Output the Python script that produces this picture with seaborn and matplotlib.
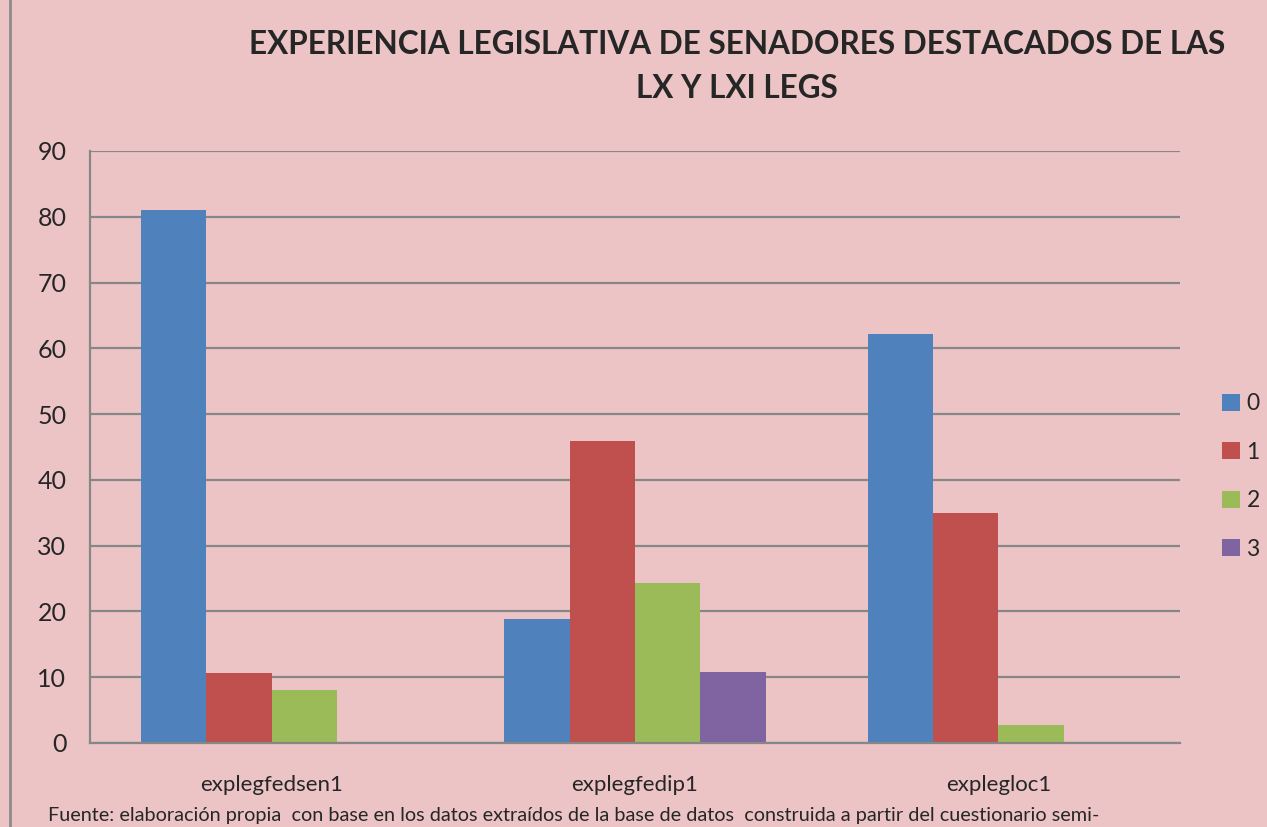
import pandas as pd
import matplotlib.pyplot as plt
import matplotlib.lines as mlines
import seaborn as sns

categories = ["explegfedsen1", "explegfedip1", "explegloc1"]
hue_levels = ["0", "1", "2", "3"]
vals_0 = [81.0, 18.8, 62.2]
vals_1 = [10.7, 45.9, 35.0]
vals_2 = [8.1, 24.3, 2.7]
vals_3 = [0.0, 10.8, 0.0]

colors = ["#4F81BD", "#C0504D", "#9BBB59", "#8064A2"]
bg = "#ECC4C6"

rows = []
for lvl, vals in zip(hue_levels, [vals_0, vals_1, vals_2, vals_3]):
    for cat, v in zip(categories, vals):
        rows.append({"cat": cat, "grp": lvl, "val": v})
df = pd.DataFrame(rows)

sns.set_style("white")
plt.rcParams["font.family"] = ["Lato", "DejaVu Sans"]

fig = plt.figure(figsize=(12.67, 8.27), dpi=100, facecolor=bg)
ax = fig.add_axes([90 / 1267, 84 / 827, 1090 / 1267, 592 / 827])
ax.set_facecolor(bg)

sns.barplot(data=df, x="cat", y="val", hue="grp", hue_order=hue_levels,
            order=categories, palette=colors, width=0.72, gap=0,
            saturation=1, linewidth=0, edgecolor="none", ax=ax, legend=True)

ax.set_ylim(0, 90)
ax.set_yticks(range(0, 91, 10))
ax.set_xlim(-0.5, 2.5)
ax.yaxis.grid(True, color="#878787", linewidth=1.6)
ax.set_axisbelow(True)
for s in ["top", "right"]:
    ax.spines[s].set_visible(False)
for s in ["left", "bottom"]:
    ax.spines[s].set_color("#878787")
    ax.spines[s].set_linewidth(1.6)
ax.tick_params(axis="y", length=0, labelsize=18, pad=17)
ax.tick_params(axis="x", length=0, labelsize=16, pad=23)
ax.set_xlabel("")
ax.set_ylabel("")

ax.legend(loc="center left", bbox_to_anchor=(1.02, 0.45), frameon=False,
          fontsize=16.5, handlelength=0.75, handleheight=0.75, handletextpad=0.3,
          labelspacing=1.2)

fig.text(737 / 1267, 1 - 44 / 827, "EXPERIENCIA LEGISLATIVA DE SENADORES DESTACADOS DE LAS",
         ha="center", va="center", fontsize=22.7, fontweight="bold")
fig.text(737 / 1267, 1 - 88 / 827, "LX Y LXI LEGS",
         ha="center", va="center", fontsize=22.7, fontweight="bold")
fig.text(48 / 1267, 1 - 815 / 827,
         "Fuente: elaboración propia  con base en los datos extraídos de la base de datos  construida a partir del cuestionario semi-",
         ha="left", va="center", fontsize=14.3)

fig.add_artist(mlines.Line2D([10 / 1267, 10 / 1267], [0, 1], color="#8C8C8C", linewidth=2))

fig.savefig("out.png", dpi=100, facecolor=bg)
